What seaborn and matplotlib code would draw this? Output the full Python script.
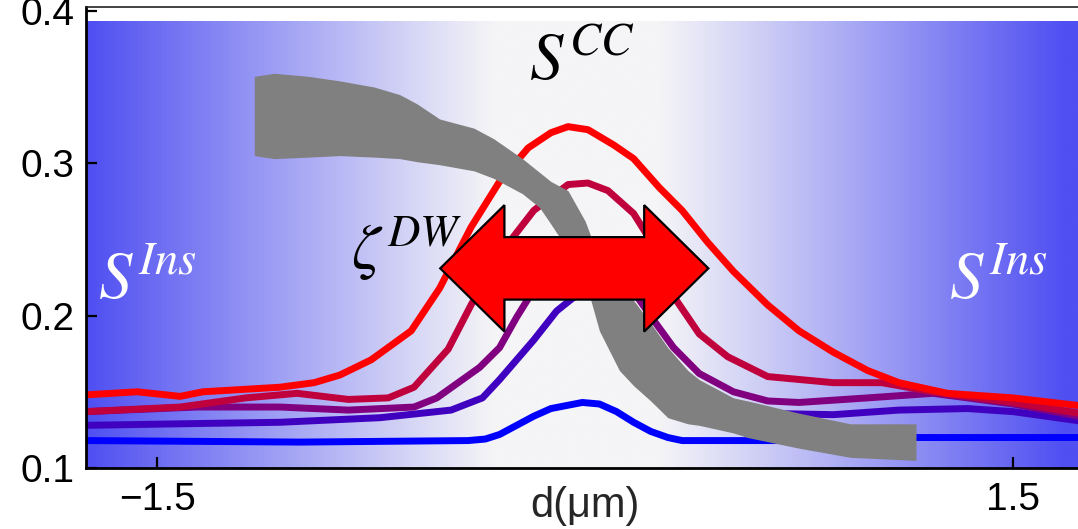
import numpy as np
import matplotlib
matplotlib.use("Agg")
import matplotlib.pyplot as plt
from matplotlib.colors import LinearSegmentedColormap
from matplotlib.patches import Polygon
import seaborn as sns

# --- curves: position d (um) and value ---
red_d = [-1.75, -1.57, -1.42, -1.34, -1.07, -0.95, -0.86, -0.75, -0.61, -0.51, -0.40, -0.30, -0.20, -0.12,
         -0.06, 0.01, 0.10, 0.17, 0.26, 0.34, 0.43, 0.52, 0.64, 0.75, 0.87, 0.99, 1.10, 1.27, 1.50, 1.73]
red_v = [0.148, 0.150, 0.147, 0.150, 0.153, 0.156, 0.161, 0.171, 0.190, 0.218, 0.258, 0.288, 0.310, 0.320,
         0.324, 0.322, 0.312, 0.303, 0.284, 0.269, 0.248, 0.229, 0.207, 0.190, 0.176, 0.164, 0.156, 0.149, 0.146, 0.141]

crimson_d = [-1.75, -1.42, -1.19, -1.01, -0.83, -0.69, -0.60, -0.48, -0.40, -0.30, -0.18, -0.06, 0.01, 0.08,
             0.17, 0.23, 0.32, 0.40, 0.50, 0.64, 0.87, 1.04, 1.22, 1.50, 1.73]
crimson_v = [0.137, 0.140, 0.146, 0.149, 0.145, 0.146, 0.153, 0.178, 0.207, 0.240, 0.269, 0.286, 0.287, 0.282,
             0.267, 0.249, 0.210, 0.188, 0.173, 0.160, 0.156, 0.156, 0.150, 0.143, 0.136]

purple_d = [-1.75, -1.36, -1.07, -0.83, -0.60, -0.52, -0.43, -0.37, -0.30, -0.24, -0.14, -0.02, 0.09, 0.18,
            0.24, 0.31, 0.40, 0.52, 0.64, 0.75, 0.99, 1.22, 1.50, 1.73]
purple_v = [0.137, 0.140, 0.140, 0.138, 0.140, 0.146, 0.158, 0.166, 0.179, 0.199, 0.229, 0.250, 0.240, 0.213,
            0.197, 0.179, 0.162, 0.150, 0.144, 0.143, 0.146, 0.149, 0.142, 0.134]

indigo_d = [-1.75, -1.42, -1.07, -0.72, -0.47, -0.36, -0.30, -0.18, -0.10, -0.02, 0.07, 0.16, 0.26, 0.40,
            0.59, 0.87, 1.10, 1.34, 1.50, 1.73]
indigo_v = [0.128, 0.129, 0.130, 0.133, 0.138, 0.146, 0.158, 0.184, 0.203, 0.215, 0.210, 0.190, 0.164, 0.144,
            0.136, 0.135, 0.138, 0.139, 0.137, 0.131]

blue_d = [-1.75, -1.0, -0.41, -0.35, -0.30, -0.24, -0.18, -0.12, -0.01, 0.05, 0.11, 0.17, 0.23, 0.29,
          0.34, 0.58, 0.75, 1.16, 1.73]
blue_v = [0.118, 0.117, 0.118, 0.119, 0.122, 0.128, 0.134, 0.139, 0.143, 0.142, 0.137, 0.130, 0.124, 0.120,
          0.118, 0.118, 0.118, 0.120, 0.120]

# --- grey band (domain wall) ---
band_d = [-1.16, -1.09, -0.97, -0.86, -0.74, -0.65, -0.59, -0.51, -0.45, -0.39, -0.32, -0.22, -0.16, -0.12,
          -0.06, -0.03, 0.0, 0.02, 0.05, 0.12, 0.17, 0.23, 0.29, 0.36, 0.40, 0.52, 0.57, 0.75, 0.93, 1.16]
band_hi = [0.357, 0.359, 0.357, 0.354, 0.350, 0.345, 0.339, 0.329, 0.326, 0.323, 0.316, 0.303, 0.294, 0.288,
           0.282, 0.272, 0.262, 0.252, 0.241, 0.224, 0.210, 0.195, 0.179, 0.164, 0.158, 0.146, 0.144, 0.136, 0.129, 0.129]
band_lo = [0.305, 0.303, 0.304, 0.305, 0.304, 0.303, 0.301, 0.299, 0.297, 0.295, 0.290, 0.280, 0.271, 0.260,
           0.243, 0.233, 0.221, 0.210, 0.190, 0.164, 0.154, 0.144, 0.133, 0.129, 0.128, 0.123, 0.120, 0.113, 0.107, 0.105]

xticks = [-1.5, 1.5]
xticklabels = ["\u22121.5", "1.5"]
yticks = [0.1, 0.2, 0.3, 0.4]
yticklabels = ["0.1", "0.2", "0.3", "0.4"]

sns.set_theme(style="ticks")
plt.rcParams['font.family'] = ['Liberation Sans', 'DejaVu Sans']
plt.rcParams['mathtext.fontset'] = 'stix'

fig = plt.figure(figsize=(10.78, 5.29), dpi=100)
ax = fig.add_axes([86 / 1078, 61 / 529, 992 / 1078, 461 / 529])
xlim = (-1.75, 1.728)
ylim = (0.1, 0.4025)

# blue -> white -> blue background
xs = np.linspace(xlim[0], xlim[1], 800)
t = np.clip((np.abs(xs + 0.03) - 0.28) / 1.44, 0, 1) ** 1.05
cmap = LinearSegmentedColormap.from_list("bw", ["#f5f5f7", "#4f4ff2"])
ax.imshow(t[None, :], extent=[xlim[0], xlim[1], ylim[0], 0.393], aspect='auto',
          cmap=cmap, vmin=0, vmax=1, zorder=0, interpolation='bilinear')

series = [(blue_d, blue_v, "#0000ff"), (indigo_d, indigo_v, "#4000c0"),
          (purple_d, purple_v, "#800080"), (crimson_d, crimson_v, "#c0003c"),
          (red_d, red_v, "#ff0000")]
for d, v, c in series:
    sns.lineplot(x=d, y=v, color=c, lw=5, ax=ax, zorder=2)

ax.fill_between(band_d, band_lo, band_hi, color="#808080", lw=0, zorder=3)

# double arrow
cx, cy = -0.038, 0.231
half_len, head_len = 0.47, 0.225
shaft, head = 0.0205, 0.0415
pts = [(cx - half_len, cy), (cx - half_len + head_len, cy + head), (cx - half_len + head_len, cy + shaft),
       (cx + half_len - head_len, cy + shaft), (cx + half_len - head_len, cy + head), (cx + half_len, cy),
       (cx + half_len - head_len, cy - head), (cx + half_len - head_len, cy - shaft),
       (cx - half_len + head_len, cy - shaft), (cx - half_len + head_len, cy - head)]
ax.add_patch(Polygon(pts, closed=True, fc="#ff0000", ec="black", lw=1.6, zorder=4))

ax.text(-0.01, 0.366, r"$S^{CC}$", fontsize=48, ha="center", va="center", color="black", zorder=5)
ax.text(-1.535, 0.222, r"$S^{Ins}$", fontsize=48, ha="center", va="center", color="white", zorder=5)
ax.text(1.45, 0.222, r"$S^{Ins}$", fontsize=48, ha="center", va="center", color="white", zorder=5)
ax.text(-0.625, 0.244, r"$\zeta^{DW}$", fontsize=46, ha="center", va="center", color="black", zorder=5)

ax.set_xlim(*xlim)
ax.set_ylim(*ylim)
ax.set_xticks(xticks)
ax.set_xticklabels(xticklabels)
ax.set_yticks(yticks)
ax.set_yticklabels(yticklabels)
ax.tick_params(direction="in", length=8, width=1.6, labelsize=28, colors="black")
ax.tick_params(axis="x", pad=10)
ax.tick_params(axis="y", pad=8)
ax.set_xlabel("d(\u03bcm)", fontsize=30)
ax.xaxis.set_label_coords(0.503, -0.038)
ax.set_ylabel("")
ax.spines["right"].set_visible(False)
for s in ["left", "bottom"]:
    ax.spines[s].set_linewidth(2)
    ax.spines[s].set_color("black")
ax.spines["top"].set_linewidth(1.2)
ax.spines["top"].set_color("#222222")
ax.set_facecolor("white")

fig.savefig("out.png", dpi=100)
